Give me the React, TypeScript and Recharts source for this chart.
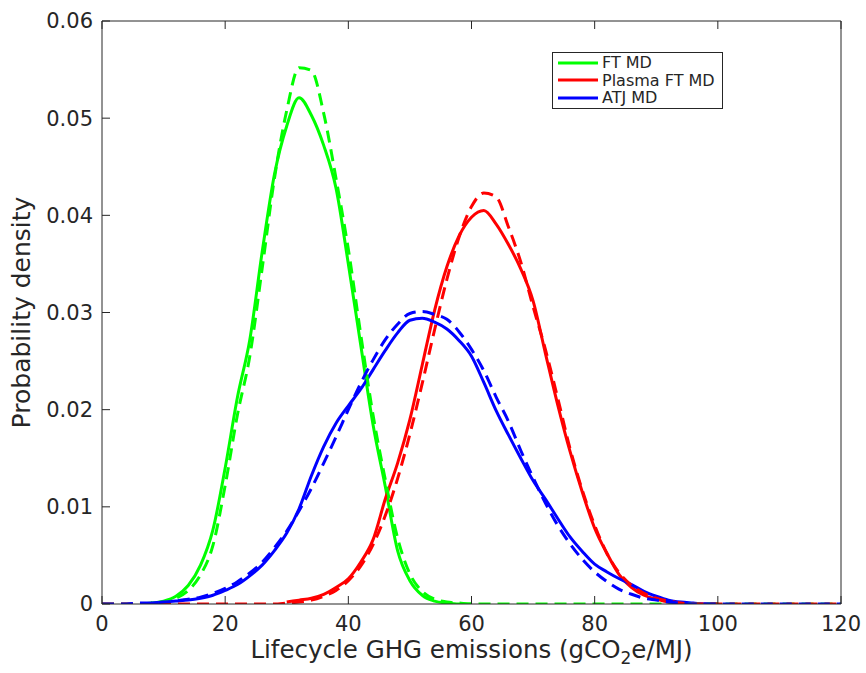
import React from 'react';
import { LineChart, Line, XAxis, YAxis, Legend, Label } from 'recharts';

// emissions grid (gCO2e/MJ)
const xValues = [
  0, 2, 4, 6, 8, 10, 12, 14, 16, 18,
  20, 22, 24, 26, 28, 30, 32, 34, 36, 38,
  40, 42, 44, 46, 48, 50, 52, 54, 56, 58,
  60, 62, 64, 66, 68, 70, 72, 74, 76, 78,
  80, 82, 84, 86, 88, 90, 92, 94, 96, 98,
  100, 102, 104, 106, 108, 110, 112, 114, 116, 118,
  120,
];

// solid = kernel density, dashed = fitted distribution
const ftMdKde = [
  null, null, null, null, 0.0001, 0.0003, 0.0008, 0.0019, 0.004, 0.0076,
  0.014, 0.0213, 0.0272, 0.0362, 0.0442, 0.0492, 0.0521, 0.0503, 0.0472, 0.0428,
  0.035, 0.0267, 0.0185, 0.0121, 0.0055, 0.0024, 0.0009, 0.0003, 0.0001, 0,
  0, null, null, null, null, null, null, null, null, null,
  null, null, null, null, null, null, null, null, null, null,
  null, null, null, null, null, null, null, null, null, null,
  null,
];
const ftMdFit = [
  0, 0, 0, 0, 0.0001, 0.0002, 0.0006, 0.0014, 0.003, 0.006,
  0.0122, 0.0195, 0.0255, 0.0345, 0.0438, 0.0508, 0.0552, 0.0549, 0.0505, 0.0438,
  0.0365, 0.0278, 0.0195, 0.0128, 0.0068, 0.0031, 0.0013, 0.0005, 0.0002, 0.0001,
  0, 0, 0, 0, 0, 0, 0, 0, 0, 0,
  0, 0, 0, 0, 0, 0, 0, 0, 0, 0,
  0, 0, 0, 0, 0, 0, 0, 0, 0, 0,
  0,
];
const plasmaKde = [
  null, null, null, null, null, null, null, null, null, null,
  null, null, null, null, null, 0.0002, 0.0004, 0.0006, 0.001, 0.0017,
  0.0026, 0.0043, 0.0066, 0.0108, 0.0145, 0.019, 0.0246, 0.0302, 0.0347, 0.0379,
  0.0398, 0.0405, 0.0391, 0.037, 0.0345, 0.0312, 0.0258, 0.0205, 0.0157, 0.0115,
  0.0078, 0.0052, 0.003, 0.0017, 0.0009, 0.0005, 0.0002, 0.0001, 0, 0,
  0, null, null, null, null, null, null, null, null, null,
  null,
];
const plasmaFit = [
  0, 0, 0, 0, 0, 0, 0, 0, 0, 0,
  0, 0, 0, 0, 0, 0.0001, 0.0002, 0.0004, 0.0008, 0.0014,
  0.0024, 0.0039, 0.0061, 0.0091, 0.0129, 0.0175, 0.0227, 0.0282, 0.0334, 0.0378,
  0.0409, 0.0423, 0.0419, 0.0388, 0.0352, 0.0306, 0.0262, 0.0212, 0.016, 0.0117,
  0.0081, 0.0052, 0.0032, 0.0019, 0.0011, 0.0006, 0.0003, 0.0001, 0, 0,
  0, 0, 0, 0, 0, 0, 0, 0, 0, 0,
  0,
];
const atjKde = [
  null, null, null, null, 0.0001, 0.0002, 0.0003, 0.0004, 0.0006, 0.0009,
  0.0014, 0.002, 0.0029, 0.004, 0.0055, 0.0073, 0.0098, 0.0132, 0.0162, 0.0186,
  0.0204, 0.0221, 0.0241, 0.0261, 0.0279, 0.0292, 0.0294, 0.029, 0.0283, 0.0271,
  0.0255, 0.0228, 0.0199, 0.0174, 0.015, 0.0127, 0.0108, 0.0088, 0.0069, 0.0054,
  0.0041, 0.0033, 0.0026, 0.002, 0.0013, 0.0008, 0.0004, 0.0002, 0.0001, 0,
  0, null, null, null, null, null, null, null, null, null,
  null,
];
const atjFit = [
  0, 0, 0, 0.0001, 0.0001, 0.0002, 0.0003, 0.0005, 0.0007, 0.0011,
  0.0016, 0.0023, 0.0032, 0.0043, 0.0058, 0.0075, 0.0096, 0.0119, 0.0145, 0.0172,
  0.02, 0.0227, 0.0251, 0.0272, 0.0288, 0.0299, 0.0301, 0.0298, 0.0293, 0.028,
  0.0262, 0.024, 0.0213, 0.0188, 0.0158, 0.013, 0.0104, 0.0081, 0.0062, 0.0046,
  0.0033, 0.0023, 0.0015, 0.001, 0.0006, 0.0004, 0.0002, 0.0001, 0, 0,
  0, 0, 0, 0, 0, 0, 0, 0, 0, 0,
  0,
];

const xTicks = [0, 20, 40, 60, 80, 100, 120];
const yTicks = [0, 0.01, 0.02, 0.03, 0.04, 0.05, 0.06];

const seriesNames = ['FT MD', 'Plasma FT MD', 'ATJ MD'];
const seriesColors = ['#00ff00', '#ff0000', '#0000ff'];

const FONT = '"DejaVu Sans", sans-serif';
const INK = '#262626';

const data = xValues.map((x, i) => ({
  x,
  ftKde: ftMdKde[i],
  ftFit: ftMdFit[i],
  plKde: plasmaKde[i],
  plFit: plasmaFit[i],
  atKde: atjKde[i],
  atFit: atjFit[i],
}));

const XTitle = (props: any) => {
  const vb = props.viewBox || {};
  const cx = vb.x + vb.width / 2;
  return (
    <text x={cx} y={658} textAnchor="middle" fontFamily={FONT} fontSize={24.5} fill={INK}>
      Lifecycle GHG emissions (gCO
      <tspan fontSize={17} dy={6}>2</tspan>
      <tspan dy={-6}>e/MJ)</tspan>
    </text>
  );
};

const YTitle = (props: any) => {
  const vb = props.viewBox || {};
  const cy = vb.y + vb.height / 2;
  return (
    <text
      transform={`translate(30, ${cy}) rotate(-90)`}
      textAnchor="middle"
      fontFamily={FONT}
      fontSize={25}
      fill={INK}
    >
      Probability density
    </text>
  );
};

const LegendBox = () => (
  <div
    style={{
      border: `1px solid ${INK}`,
      background: '#fff',
      width: 171,
      height: 57,
      boxSizing: 'border-box',
      padding: '1px 0 0 5px',
      fontFamily: FONT,
      fontSize: 16,
      color: INK,
    }}
  >
    {seriesNames.map((name, i) => (
      <div key={name} style={{ display: 'flex', alignItems: 'center', height: 17.5 }}>
        <svg width={42} height={4} style={{ display: 'block' }}>
          <line x1={0} y1={2} x2={40} y2={2} stroke={seriesColors[i]} strokeWidth={3} />
        </svg>
        <span style={{ marginLeft: 2, lineHeight: '17px', whiteSpace: 'nowrap' }}>{name}</span>
      </div>
    ))}
  </div>
);

const tickStyle = { fontFamily: FONT, fontSize: 21, fill: INK };

export default function App() {
  return (
    <div style={{ position: 'absolute', top: 0, left: 0, width: 866, height: 673, background: '#fff' }}>
      <LineChart width={866} height={673} data={data} margin={{ top: 20, right: 24, bottom: 9, left: 12 }}>
        <XAxis
          dataKey="x"
          type="number"
          domain={[0, 120]}
          ticks={xTicks}
          allowDataOverflow
          height={60}
          tickSize={-8}
          tickMargin={20}
          stroke={INK}
          tick={tickStyle}
        >
          <Label content={XTitle} />
        </XAxis>
        <XAxis
          xAxisId="top"
          orientation="top"
          dataKey="x"
          type="number"
          domain={[0, 120]}
          ticks={xTicks}
          height={1}
          tickSize={-8}
          tickFormatter={() => ''}
          stroke={INK}
        />
        <YAxis
          type="number"
          domain={[0, 0.06]}
          ticks={yTicks}
          allowDataOverflow
          width={90}
          tickSize={-8}
          tickMargin={17}
          stroke={INK}
          tick={tickStyle}
          tickFormatter={(v: number) => (v === 0 ? '0' : v.toFixed(2))}
        >
          <Label content={YTitle} />
        </YAxis>
        <YAxis
          yAxisId="right"
          orientation="right"
          type="number"
          domain={[0, 0.06]}
          ticks={yTicks}
          width={1}
          tickSize={-8}
          tickFormatter={() => ''}
          stroke={INK}
        />
        <Legend
          layout="vertical"
          align="center"
          verticalAlign="middle"
          content={LegendBox}
          wrapperStyle={{ position: 'absolute', top: 52, left: 552, width: 171 }}
        />
        <Line dataKey="ftKde" stroke={seriesColors[0]} strokeWidth={3} dot={false} type="monotone" isAnimationActive={false} />
        <Line dataKey="plKde" stroke={seriesColors[1]} strokeWidth={3} dot={false} type="monotone" isAnimationActive={false} />
        <Line dataKey="atKde" stroke={seriesColors[2]} strokeWidth={3} dot={false} type="monotone" isAnimationActive={false} />
        <Line dataKey="ftFit" stroke={seriesColors[0]} strokeWidth={3} strokeDasharray="12 7" dot={false} type="monotone" isAnimationActive={false} legendType="none" />
        <Line dataKey="plFit" stroke={seriesColors[1]} strokeWidth={3} strokeDasharray="12 7" dot={false} type="monotone" isAnimationActive={false} legendType="none" />
        <Line dataKey="atFit" stroke={seriesColors[2]} strokeWidth={3} strokeDasharray="12 7" dot={false} type="monotone" isAnimationActive={false} legendType="none" />
      </LineChart>
    </div>
  );
}
